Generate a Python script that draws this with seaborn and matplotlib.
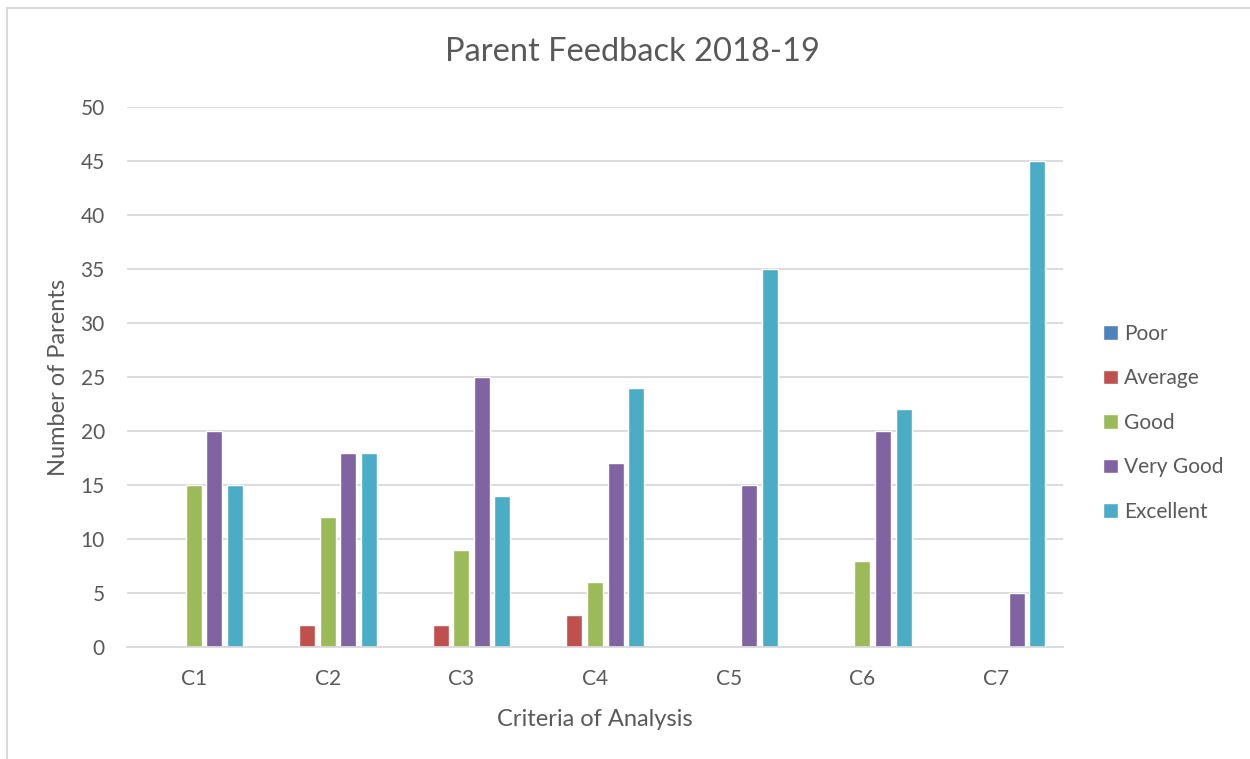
import pandas as pd
import seaborn as sns
import matplotlib.pyplot as plt
from matplotlib.patches import Rectangle

criteria = ["C1", "C2", "C3", "C4", "C5", "C6", "C7"]
poor = [0, 0, 0, 0, 0, 0, 0]
average = [0, 2, 2, 3, 0, 0, 0]
good = [15, 12, 9, 6, 0, 8, 0]
very_good = [20, 18, 25, 17, 15, 20, 5]
excellent = [15, 18, 14, 24, 35, 22, 45]
ratings = ["Poor", "Average", "Good", "Very Good", "Excellent"]
colors = ["#4F81BD", "#C0504D", "#9BBB59", "#8064A2", "#4BACC6"]

rows = []
for rating, vals in zip(ratings, [poor, average, good, very_good, excellent]):
    for c, v in zip(criteria, vals):
        rows.append({"Criteria": c, "Rating": rating, "Parents": v})
df = pd.DataFrame(rows)

sns.set_style("white")
plt.rcParams['font.family'] = ['Lato', 'DejaVu Sans']
txt = "#595959"

fig = plt.figure(figsize=(12.5, 7.59), dpi=100)
ax = fig.add_axes([0.1016, 0.1476, 0.7488, 0.7114])

sns.barplot(data=df, x="Criteria", y="Parents", hue="Rating", hue_order=ratings,
            palette=colors, width=0.77, ax=ax, saturation=1, legend=True)

# thinner bars with gaps, as in the original
for p in ax.patches:
    w = p.get_width()
    if w > 0:
        cx = p.get_x() + w / 2
        p.set_width(0.12)
        p.set_x(cx - 0.06)

ax.set_ylim(0, 50)
ax.set_yticks(range(0, 51, 5))
ax.set_xlim(-0.5, 6.5)
ax.yaxis.grid(True, color="#D9D9D9", linewidth=1.3)
ax.set_axisbelow(True)
for s in ["top", "right", "left"]:
    ax.spines[s].set_visible(False)
ax.spines["bottom"].set_color("#D9D9D9")
ax.spines["bottom"].set_linewidth(1.3)
ax.tick_params(axis="both", length=0, labelsize=15, labelcolor=txt)
ax.tick_params(axis="y", pad=16)
ax.tick_params(axis="x", pad=16)

ax.set_xlabel("Criteria of Analysis", fontsize=17, color=txt, labelpad=14)
ax.set_ylabel("Number of Parents", fontsize=17, color=txt, labelpad=8)
fig.text(0.506, 0.932, "Parent Feedback 2018-19", fontsize=23.5, color=txt,
         ha="center", va="center")

handles, labels = ax.get_legend_handles_labels()
ax.legend(handles, labels, loc="center left", bbox_to_anchor=(1.023, 0.415),
          frameon=False, fontsize=15, labelcolor=txt, labelspacing=1.18,
          handlelength=0.7, handleheight=0.7, handletextpad=0.3)

fig.patches.append(Rectangle((7 / 1250, -0.1), 1.2, 1 - 8 / 759 + 0.1,
                             transform=fig.transFigure, fill=False,
                             edgecolor="#D9D9D9", linewidth=1.5))

fig.savefig("out.png", dpi=100)
